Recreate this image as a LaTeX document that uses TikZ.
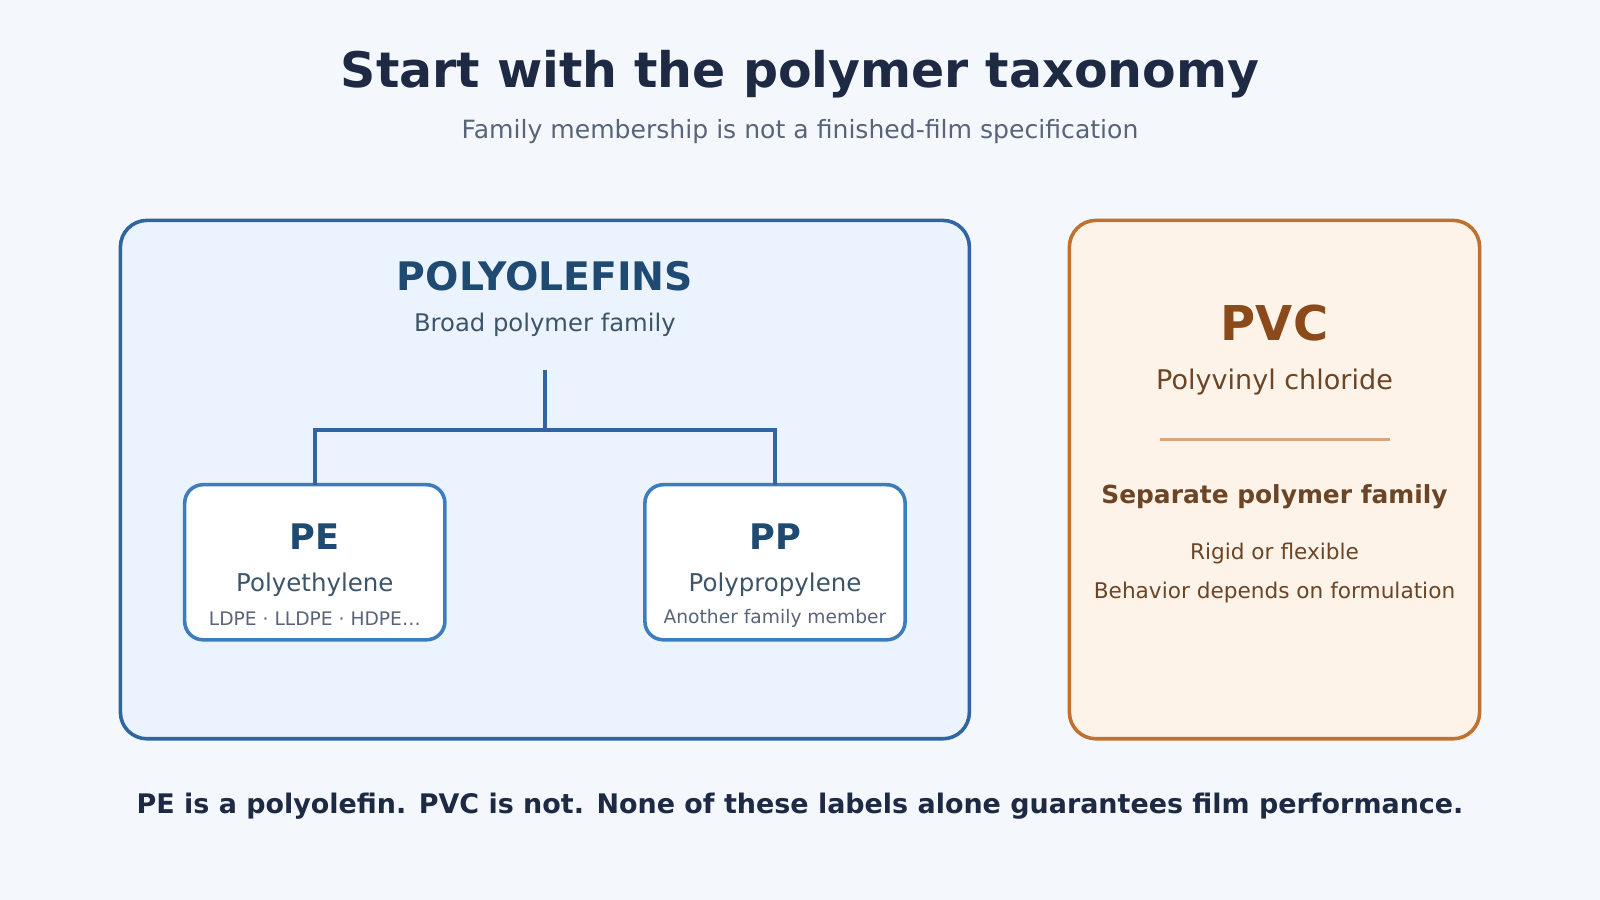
\documentclass[tikz,border=0pt]{standalone}
\usepackage{fontspec}
\setmainfont{DejaVu Sans}
\begin{document}
\begin{tikzpicture}[x=1pt,y=-1pt,
  txt/.style={inner sep=0pt,anchor=center},
  big/.style={draw=c1,line width=3.5pt,rounded corners=26pt},
  sub/.style={draw=c2,fill=white,line width=3.5pt,rounded corners=18pt},
  conn/.style={draw=c1,line width=4pt}]
\definecolor{bg}{HTML}{F4F7FB}
\definecolor{ttl}{HTML}{1E2A44}
\definecolor{subt}{HTML}{5A6478}
\definecolor{c1}{HTML}{2F65A0}
\definecolor{c2}{HTML}{3D7DBE}
\definecolor{bfill}{HTML}{EAF3FE}
\definecolor{dblue}{HTML}{1F4A72}
\definecolor{slate}{HTML}{3E5468}
\definecolor{ofill}{HTML}{FEF3E8}
\definecolor{oline}{HTML}{C0712F}
\definecolor{brown}{HTML}{8B4A1A}
\definecolor{dbrown}{HTML}{6B4526}
\definecolor{lbrown}{HTML}{D9A57A}
\fill[bg] (0,0) rectangle (1568,882);
\useasboundingbox (0,0) rectangle (1568,882);
\node[txt,text=ttl,font=\fontsize{48}{52}\selectfont\bfseries] (title) at (784,73) {Start with the polymer taxonomy};
\node[txt,text=subt,font=\fontsize{24.6}{28}\selectfont] (subtitle) at (784,129) {Family membership is not a finished-film specification};
% polyolefins
\draw[big,fill=bfill] (118,216) rectangle (950,724);
\node[txt,text=dblue,font=\fontsize{38.5}{42}\selectfont\bfseries] (poly) at (534,271) {POLYOLEFINS};
\node[txt,text=slate,font=\fontsize{23.8}{27}\selectfont] (polysub) at (534,318) {Broad polymer family};
\coordinate (top) at (534,363);
\coordinate (mid) at (534,421);
\draw[sub] (181,475) rectangle (436,627);
\draw[sub] (632,475) rectangle (887,627);
\coordinate (pe) at (308.5,475);
\coordinate (pp) at (759.5,475);
\draw[conn] (top) -- (mid);
\draw[conn] (pe) |- (mid) -| (pp);
\node[txt,text=dblue,font=\fontsize{34.5}{38}\selectfont\bfseries] (pet) at (308.5,526) {PE};
\node[txt,text=slate,font=\fontsize{24}{27}\selectfont] (pes) at (308.5,573) {Polyethylene};
\node[txt,text=subt,font=\fontsize{18.3}{20}\selectfont] (pel) at (308.5,606) {LDPE · LLDPE · HDPE…};
\node[txt,text=dblue,font=\fontsize{34.5}{38}\selectfont\bfseries] (ppt) at (759.5,526) {PP};
\node[txt,text=slate,font=\fontsize{24}{27}\selectfont] (pps) at (759.5,573) {Polypropylene};
\node[txt,text=subt,font=\fontsize{18.3}{20}\selectfont] (ppl) at (759.5,606) {Another family member};
% PVC
\draw[big,draw=oline,fill=ofill] (1048,216) rectangle (1450,724);
\node[txt,text=brown,font=\fontsize{47}{50}\selectfont\bfseries] (pvc) at (1249,317) {PVC};
\node[txt,text=dbrown,font=\fontsize{26.5}{30}\selectfont] (pvcs) at (1249,374) {Polyvinyl chloride};
\coordinate (l1) at (1137,431); \coordinate (l2) at (1362,431);
\draw[lbrown,line width=3pt] (l1) -- (l2);
\node[txt,text=dbrown,font=\fontsize{24.4}{28}\selectfont\bfseries] (sep) at (1249,487) {Separate polymer family};
\node[txt,text=dbrown,font=\fontsize{21.2}{24}\selectfont] (rig) at (1249,542) {Rigid or flexible};
\node[txt,text=dbrown,font=\fontsize{21.2}{24}\selectfont] (beh) at (1249,581) {Behavior depends on formulation};
\node[txt,text=ttl,font=\fontsize{26.4}{30}\selectfont\bfseries] (foot) at (784,790) {PE is a polyolefin. PVC is not. None of these labels alone guarantees film performance.};
\end{tikzpicture}
\end{document}
